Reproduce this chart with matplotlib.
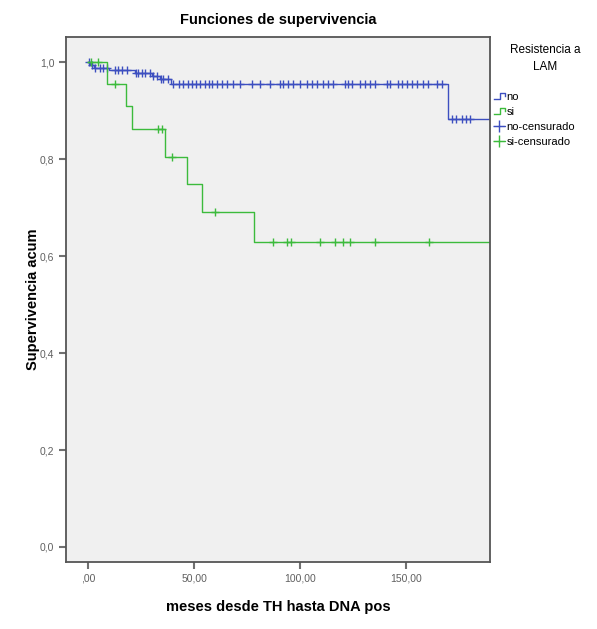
import numpy as np
import matplotlib.pyplot as plt
from matplotlib.lines import Line2D
from matplotlib.legend_handler import HandlerBase

plt.rcParams['font.family'] = ['Liberation Sans', 'DejaVu Sans']

# Kaplan-Meier steps (time of event, survival after the event)
no_times = [0, 1, 3, 10, 22, 30, 34, 39, 170]
no_surv = [1.0, 0.995, 0.989, 0.983, 0.977, 0.971, 0.965, 0.955, 0.883]
si_times = [0, 8.8, 17.8, 20.6, 36.3, 46.5, 53.6, 78.5]
si_surv = [1.0, 0.955, 0.909, 0.862, 0.805, 0.748, 0.69, 0.63]

# censored observations (months)
no_cens = [0.3, 1.9, 3.3, 5.7, 7.1, 9, 12.7, 14.2, 16, 18.4, 22.5, 23.6, 25.5,
           26.9, 29.2, 30.7, 32.5, 34.5, 35.4, 37.7, 40.1, 43, 45, 47, 49, 51,
           53, 55, 57, 58.5, 60.8, 63.2, 65.6, 68.4, 71.7, 77.4, 81.1, 85.8,
           90.6, 92, 94.3, 96.7, 100, 103.3, 105.7, 108, 110.8, 113.2, 115.6,
           121.2, 122.6, 124.5, 128.3, 130.7, 133, 135.4, 141, 142.5, 146.2,
           148.1, 150.5, 152.8, 155.2, 158, 160.4, 164.6, 167, 171.7, 173.6,
           176.4, 178.3, 180]
si_cens = [1.5, 4.5, 12.7, 33, 35, 39.5, 60, 87.3, 93.9, 95.8, 109.4, 116.5,
           120.3, 123.6, 135.4, 160.8]
x_end = 192

BLUE = '#3d4fc0'
GREEN = '#3cbb3c'


def surv_at(times, surv, t):
    idx = np.searchsorted(times, t, side='right') - 1
    return np.asarray(surv)[idx]


fig = plt.figure(figsize=(5.97, 6.29), dpi=100)
ax = fig.add_axes([0.1106, 0.1065, 0.710, 0.8347])
ax.set_facecolor('#f0f0f0')

for times, surv, cens, col in [(no_times, no_surv, no_cens, BLUE),
                               (si_times, si_surv, si_cens, GREEN)]:
    ax.step(times + [x_end], surv + [surv[-1]], where='post', color=col, lw=1.0)
    ax.plot(cens, surv_at(times, surv, cens), '+', color=col, ms=6, mew=1.0)

ax.set_xlim(-10.4, 189.6)
ax.set_ylim(-0.031, 1.052)
ax.set_xticks([0, 50, 100, 150])
ax.set_xticklabels([',00', '50,00', '100,00', '150,00'])
ax.set_yticks([0, 0.2, 0.4, 0.6, 0.8, 1.0])
ax.set_yticklabels(['0,0', '0,2', '0,4', '0,6', '0,8', '1,0'])
ax.tick_params(direction='out', length=5, width=1.5, color='#707070',
               labelcolor='#606060', labelsize=7.5)
for s in ax.spines.values():
    s.set_color('#555555')
    s.set_linewidth(1.3)

ax.set_title('Funciones de supervivencia', fontsize=10.5, fontweight='bold', pad=9)
ax.set_xlabel('meses desde TH hasta DNA pos', fontsize=10.5, fontweight='bold',
              labelpad=12)
ax.set_ylabel('Supervivencia acum', fontsize=10.5, fontweight='bold', labelpad=0)


class StepHandler(HandlerBase):
    def create_artists(self, legend, orig_handle, xdescent, ydescent, width,
                       height, fontsize, trans):
        x0, x1 = -xdescent, -xdescent + width
        xm = x0 + width * 0.55
        ylo, yhi = -ydescent + height * 0.1, -ydescent + height * 0.9
        ln = Line2D([x0, xm, xm, x1, x1], [ylo, ylo, yhi, yhi, yhi * 0.55],
                    color=orig_handle.get_color(), lw=1.0, transform=trans)
        return [ln]


handles = [Line2D([], [], color=BLUE), Line2D([], [], color=GREEN),
           Line2D([], [], color=BLUE, marker='+', ls='-', lw=0.8, ms=8),
           Line2D([], [], color=GREEN, marker='+', ls='-', lw=0.8, ms=8)]
labels = ['no', 'si', 'no-censurado', 'si-censurado']
leg = fig.legend(handles, labels, loc='upper left', bbox_to_anchor=(0.81, 0.87),
                 frameon=False, fontsize=8, handlelength=1.0, handletextpad=0.15,
                 labelspacing=0.45,
                 handler_map={handles[0]: StepHandler(), handles[1]: StepHandler()})
fig.text(0.913, 0.907, 'Resistencia a\nLAM', ha='center', va='center',
         fontsize=8.5, linespacing=1.5)

fig.savefig('out.png', dpi=100)
